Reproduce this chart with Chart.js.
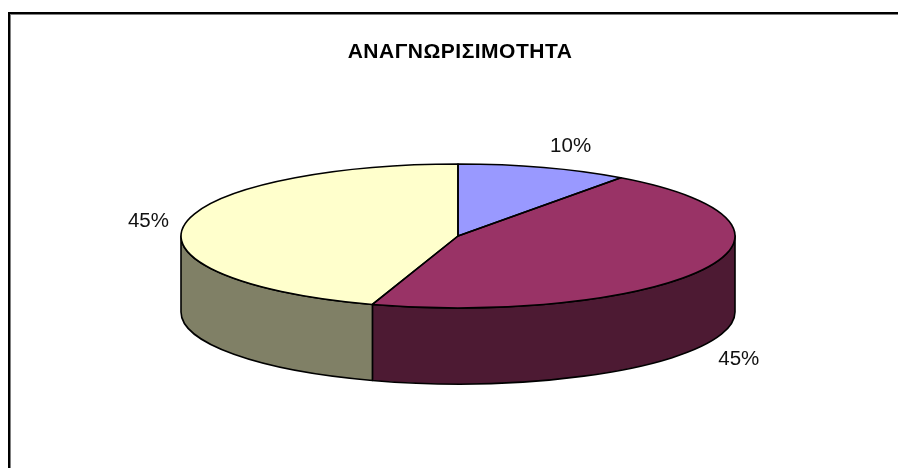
<!DOCTYPE html>
<html>
<head>
<meta charset="utf-8">
<style>html,body{margin:0;padding:0;background:#fff}#w{width:898px;height:468px;position:relative}</style>
<script src="https://cdn.jsdelivr.net/npm/chart.js@4"></script>
</head>
<body>
<div id="w"><canvas id="c" width="898" height="468"></canvas></div>
<script>
const chartTitle = 'ΑΝΑΓΝΩΡΙΣΙΜΟΤΗΤΑ';
const categories = ['Α', 'Β', 'Γ'];
const values = [10, 45, 45];
const topColors = ['#9999FF', '#993366', '#FFFFCC'];
const sideColors = ['#4D4D80', '#4D1A33', '#808066'];
const labelOffsets = [[27, -21], [34, 15], [-36, -3]];

const RX = 277, RY = 72, DEPTH = 76, R = 170;

const pie3d = {
  id: 'pie3d',
  beforeDraw(chart) {
    const c = chart.ctx;
    c.save();
    c.strokeStyle = '#808080';
    c.lineWidth = 3;
    c.beginPath();
    c.moveTo(9.5, 469);
    c.lineTo(9.5, 13.5);
    c.lineTo(899, 13.5);
    c.stroke();
    c.strokeStyle = '#000';
    c.lineWidth = 2;
    c.beginPath();
    c.moveTo(9, 469);
    c.lineTo(9, 13);
    c.lineTo(899, 13);
    c.stroke();
    c.restore();
  },
  beforeDatasetsDraw(chart) {
    const c = chart.ctx;
    const arcs = chart.getDatasetMeta(0).data;
    const cx = arcs[0].x, cy = arcs[0].y;
    c.save();
    c.lineWidth = 1.6;
    c.strokeStyle = '#000';
    c.lineJoin = 'round';
    arcs.forEach((a, i) => {
      const s = Math.max(a.startAngle, 0), e = Math.min(a.endAngle, Math.PI);
      if (e <= s) return;
      c.beginPath();
      c.ellipse(cx, cy, RX, RY, 0, s, e);
      c.ellipse(cx, cy + DEPTH, RX, RY, 0, e, s, true);
      c.closePath();
      c.fillStyle = sideColors[i];
      c.fill();
      c.stroke();
    });
    c.restore();
    c.save();
    c.translate(cx, cy);
    c.scale(RX / arcs[0].outerRadius, RY / arcs[0].outerRadius);
    c.translate(-cx, -cy);
  },
  afterDatasetsDraw(chart) {
    const c = chart.ctx;
    c.restore();
    const arcs = chart.getDatasetMeta(0).data;
    const cx = arcs[0].x, cy = arcs[0].y;
    c.save();
    c.lineWidth = 1.6;
    c.strokeStyle = '#000';
    c.lineJoin = 'round';
    arcs.forEach(a => {
      c.beginPath();
      c.moveTo(cx, cy);
      c.ellipse(cx, cy, RX, RY, 0, a.startAngle, a.endAngle);
      c.closePath();
      c.stroke();
    });
    c.fillStyle = '#111';
    c.font = '20.5px "Liberation Sans"';
    c.textAlign = 'center';
    c.textBaseline = 'middle';
    arcs.forEach((a, i) => {
      const m = (a.startAngle + a.endAngle) / 2;
      const lift = Math.sin(m) > 0 ? DEPTH : 0;
      c.fillText(values[i] + '%',
        cx + RX * Math.cos(m) + labelOffsets[i][0],
        cy + RY * Math.sin(m) + lift + labelOffsets[i][1]);
    });
    c.restore();
  }
};

new Chart(document.getElementById('c'), {
  type: 'pie',
  data: {
    labels: categories,
    datasets: [{ data: values, backgroundColor: topColors, borderWidth: 0 }]
  },
  options: {
    responsive: false,
    animation: false,
    layout: { padding: { left: 458 - R, right: 898 - 458 - R, top: 236 - R, bottom: 468 - 236 - R } },
    plugins: {
      legend: { display: false },
      tooltip: { enabled: false },
      title: { display: false }
    }
  },
  plugins: [pie3d, {
    id: 'titleText',
    afterDraw(chart) {
      const c = chart.ctx;
      c.save();
      c.fillStyle = '#000';
      c.font = 'bold 21px "Liberation Sans"';
      c.letterSpacing = '0.5px';
      c.textAlign = 'center';
      c.textBaseline = 'alphabetic';
      c.fillText(chartTitle, 460, 58);
      c.restore();
    }
  }]
});
</script>
</body>
</html>
